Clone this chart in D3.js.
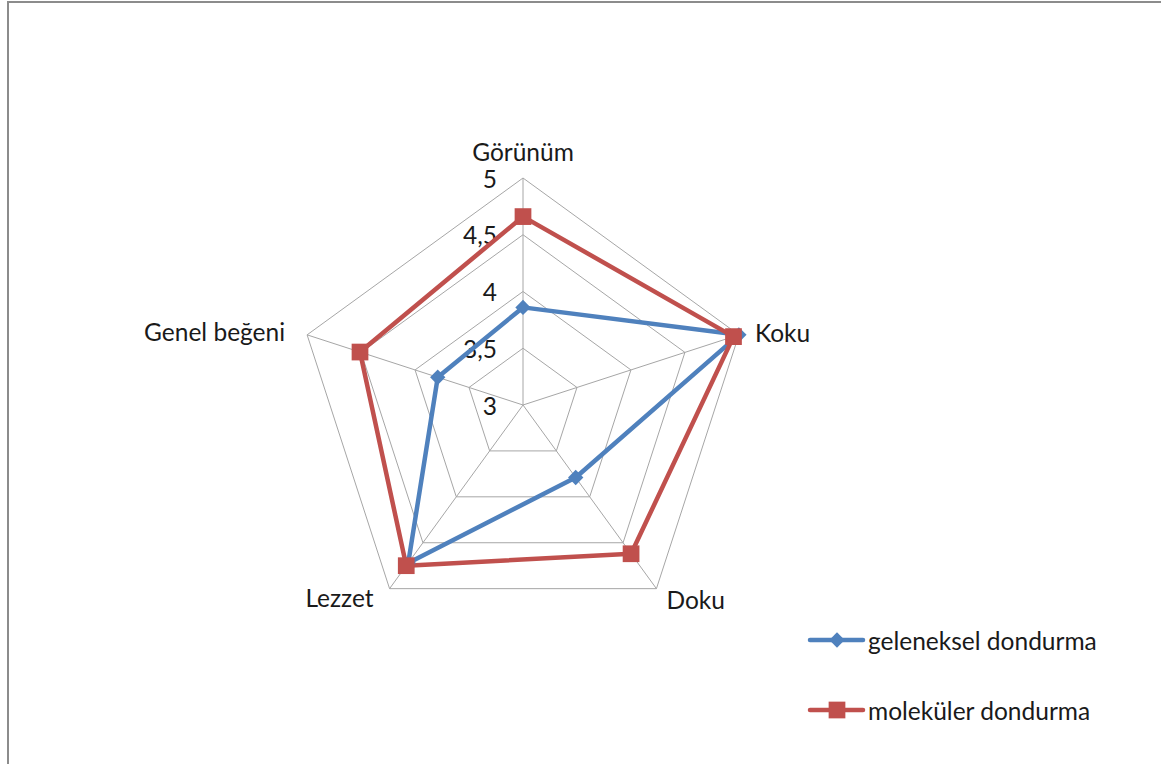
<!DOCTYPE html>
<html>
<head>
<meta charset="utf-8">
<script src="https://cdn.jsdelivr.net/npm/d3@7"></script>
<style>
  html, body { margin: 0; padding: 0; background: #fff; }
  svg { display: block; font-family: Lato, "Open Sans", "Liberation Sans", sans-serif; }
</style>
</head>
<body>
<svg id="chart" width="1161" height="764"></svg>
<script>
// Radar chart: sensory scores for traditional vs. molecular ice cream
const categories = ["Görünüm", "Koku", "Doku", "Lezzet", "Genel beğeni"];
const geleneksel = [3.86, 5.0, 3.79, 4.72, 3.79];
const molekuler  = [4.66, 4.95, 4.62, 4.75, 4.51];
const tickValues = [3, 3.5, 4, 4.5, 5];
const tickLabels = ["3", "3,5", "4", "4,5", "5"];
const seriesNames = ["geleneksel dondurma", "moleküler dondurma"];
const seriesColors = ["#4f81bd", "#c0504d"];

const svg = d3.select("#chart");
const cx = 523, cy = 405, R = 227;
const fontSize = 24.5;

// outer frame
svg.append("path")
  .attr("d", "M8,764 V2 H1161")
  .attr("fill", "none").attr("stroke", "#8c8c8c").attr("stroke-width", 2);

const r = d3.scaleLinear().domain([3, 5]).range([0, R]);
const angle = d3.scalePoint().domain(categories).range([0, 2 * Math.PI * 4 / 5]);
const pt = (cat, v) => {
  const a = angle(cat);
  return [cx + r(v) * Math.sin(a), cy - r(v) * Math.cos(a)];
};

const g = svg.append("g");

// grid rings
tickValues.slice(1).forEach(t => {
  g.append("polygon")
    .attr("points", categories.map(c => pt(c, t).join(",")).join(" "))
    .attr("fill", "none").attr("stroke", "#a6a6a6").attr("stroke-width", 1);
});
// spokes
categories.forEach(c => {
  const [x, y] = pt(c, 5);
  g.append("line").attr("x1", cx).attr("y1", cy).attr("x2", x).attr("y2", y)
    .attr("stroke", "#a6a6a6").attr("stroke-width", 1);
});

// tick labels along the first axis
tickValues.forEach((t, i) => {
  const [x, y] = pt(categories[0], t);
  g.append("text").attr("x", x - 26).attr("y", y)
    .attr("text-anchor", "end").attr("dominant-baseline", "central")
    .attr("font-size", fontSize).attr("fill", "#1a1a1a").text(tickLabels[i]);
});

// category labels
const labelPos = [
  { dx: 0, dy: -27, anchor: "middle" },
  { dx: 16, dy: -2, anchor: "start" },
  { dx: 10, dy: 11, anchor: "start" },
  { dx: -16, dy: 9, anchor: "end" },
  { dx: -22, dy: -3, anchor: "end" }
];
categories.forEach((c, i) => {
  const [x, y] = pt(c, 5);
  g.append("text").attr("x", x + labelPos[i].dx).attr("y", y + labelPos[i].dy)
    .attr("text-anchor", labelPos[i].anchor).attr("dominant-baseline", "central")
    .attr("font-size", fontSize).attr("fill", "#1a1a1a").text(c);
});

const line = d3.line().curve(d3.curveLinearClosed);
const symbols = [d3.symbol().type(d3.symbolDiamond2).size(150), d3.symbol().type(d3.symbolSquare).size(280)];

[geleneksel, molekuler].forEach((vals, si) => {
  const pts = categories.map((c, i) => pt(c, vals[i]));
  g.append("path").attr("d", line(pts))
    .attr("fill", "none").attr("stroke", seriesColors[si]).attr("stroke-width", 4.5)
    .attr("stroke-linejoin", "round");
});
[geleneksel, molekuler].forEach((vals, si) => {
  categories.forEach((c, i) => {
    const [x, y] = pt(c, vals[i]);
    g.append("path").attr("d", symbols[si]()).attr("transform", `translate(${x},${y})`)
      .attr("fill", seriesColors[si]);
  });
});

// legend
const legY = [640, 710];
seriesNames.forEach((name, si) => {
  const lg = svg.append("g").attr("transform", `translate(810,${legY[si]})`);
  lg.append("line").attr("x1", 0).attr("x2", 53).attr("y1", 0).attr("y2", 0)
    .attr("stroke", seriesColors[si]).attr("stroke-width", 4.5).attr("stroke-linecap", "round");
  lg.append("path").attr("d", symbols[si]()).attr("transform", "translate(27,0)")
    .attr("fill", seriesColors[si]);
  lg.append("text").attr("x", 58).attr("y", 0).attr("dominant-baseline", "central")
    .attr("font-size", fontSize).attr("fill", "#1a1a1a").text(name);
});
</script>
</body>
</html>
